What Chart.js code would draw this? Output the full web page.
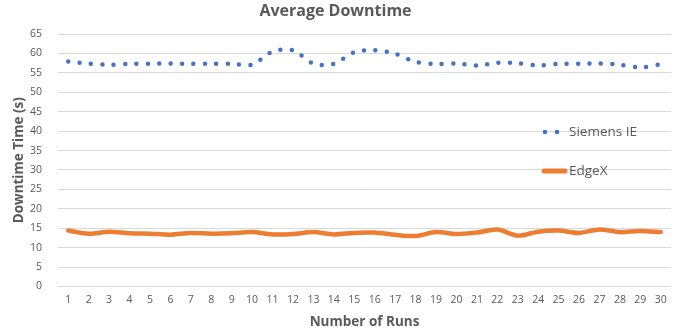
<!DOCTYPE html>
<html>
<head>
<meta charset="utf-8">
<script src="https://cdn.jsdelivr.net/npm/chart.js@4.4.0/dist/chart.umd.min.js"></script>
<style>
  html, body { margin: 0; padding: 0; background: #fff; }
  #wrap { width: 684px; height: 333px; }
</style>
</head>
<body>
<div id="wrap"><canvas id="downtimeChart" width="684" height="333"></canvas></div>
<script>
const runs = [1, 2, 3, 4, 5, 6, 7, 8, 9, 10, 11, 12, 13, 14, 15, 16, 17, 18, 19, 20, 21, 22, 23, 24, 25, 26, 27, 28, 29, 30];
const siemensIE = [57.9, 57.4, 57.1, 57.3, 57.35, 57.4, 57.35, 57.35, 57.3, 57.1, 60.5, 60.8, 57.4, 57.3, 60.3,
    60.8, 59.9, 57.8, 57.3, 57.4, 56.9, 57.6, 57.5, 56.9, 57.3, 57.35, 57.4, 57.1, 56.4, 57.2];
const edgeX = [14.4, 13.6, 14.1, 13.7, 13.6, 13.35, 13.8, 13.6, 13.7, 14.0, 13.4, 13.5, 14.0, 13.4, 13.8,
    13.9, 13.3, 13.0, 14.0, 13.5, 13.9, 14.65, 13.1, 14.1, 14.4, 13.8, 14.7, 14.0, 14.3, 14.0];
const yTicks = [0, 5, 10, 15, 20, 25, 30, 35, 40, 45, 50, 55, 60, 65];

const blue = '#4472C4';
const orange = '#ED7D31';
const grey = '#595959';
const tickFont = { family: 'Open Sans', size: 10.5 };
const titleFont = { family: 'Open Sans', size: 13.5, weight: 'bold' };

// legend sits inside the plot, like the Excel original
const insideLegend = {
    id: 'insideLegend',
    afterDraw(chart) {
        const ctx = chart.ctx;
        const ds = chart.data.datasets;
        const x0 = 544, rows = [132, 171];
        ctx.save();
        ctx.font = '13.5px "Open Sans"';
        ctx.textBaseline = 'middle';
        ds.forEach((d, i) => {
            const y = rows[i];
            if (i === 0) {
                ctx.fillStyle = d.borderColor;
                [x0 + 1, x0 + 13].forEach(px => {
                    ctx.beginPath();
                    ctx.arc(px, y, 2.3, 0, Math.PI * 2);
                    ctx.fill();
                });
            } else {
                ctx.strokeStyle = d.borderColor;
                ctx.lineWidth = 5;
                ctx.lineCap = 'round';
                ctx.beginPath();
                ctx.moveTo(x0, y);
                ctx.lineTo(x0 + 21, y);
                ctx.stroke();
            }
            ctx.fillStyle = grey;
            ctx.fillText(d.label, x0 + 25, y);
        });
        ctx.restore();
    }
};

new Chart(document.getElementById('downtimeChart'), {
    type: 'line',
    data: {
        labels: runs,
        datasets: [{
            label: 'Siemens IE',
            data: siemensIE,
            borderColor: blue,
            borderWidth: 4.5,
            borderDash: [0, 11.4],
            borderCapStyle: 'round',
            pointRadius: 0,
            tension: 0.3,
            fill: false,
        }, {
            label: 'EdgeX',
            data: edgeX,
            borderColor: orange,
            borderWidth: 4.5,
            borderCapStyle: 'round',
            borderJoinStyle: 'round',
            pointRadius: 0,
            tension: 0.3,
            fill: false,
        }],
    },
    options: {
        responsive: false,
        animation: false,
        layout: { padding: { left: 0, right: 13, top: 0, bottom: 0 } },
        scales: {
            x: {
                offset: true,
                afterFit: s => { s.height = 46.5; },
                grid: { display: false, drawTicks: false },
                border: { display: false },
                ticks: { color: grey, font: tickFont, padding: 7, maxRotation: 0, autoSkip: false },
                title: { display: true, text: 'Number of Runs', color: grey, font: titleFont, padding: { top: 0, bottom: 3 } },
            },
            y: {
                min: 0,
                max: 65,
                afterBuildTicks: s => { s.ticks = yTicks.map(v => ({ value: v })); },
                afterFit: s => { s.width = 58; },
                grid: { color: '#d9d9d9', lineWidth: 1, drawTicks: false },
                border: { display: false },
                ticks: { color: grey, font: tickFont, padding: 16 },
                title: { display: true, text: 'Downtime Time (s)', color: grey, font: titleFont, padding: { top: 11, bottom: 0 } },
            },
        },
        plugins: {
            legend: { display: false },
            tooltip: { enabled: false },
            title: {
                display: true,
                text: 'Average Downtime',
                color: grey,
                font: { family: 'Open Sans', size: 16, weight: 'bold' },
                padding: { top: 2, bottom: 12.8 },
            },
        },
    },
    plugins: [insideLegend],
});
</script>
</body>
</html>
